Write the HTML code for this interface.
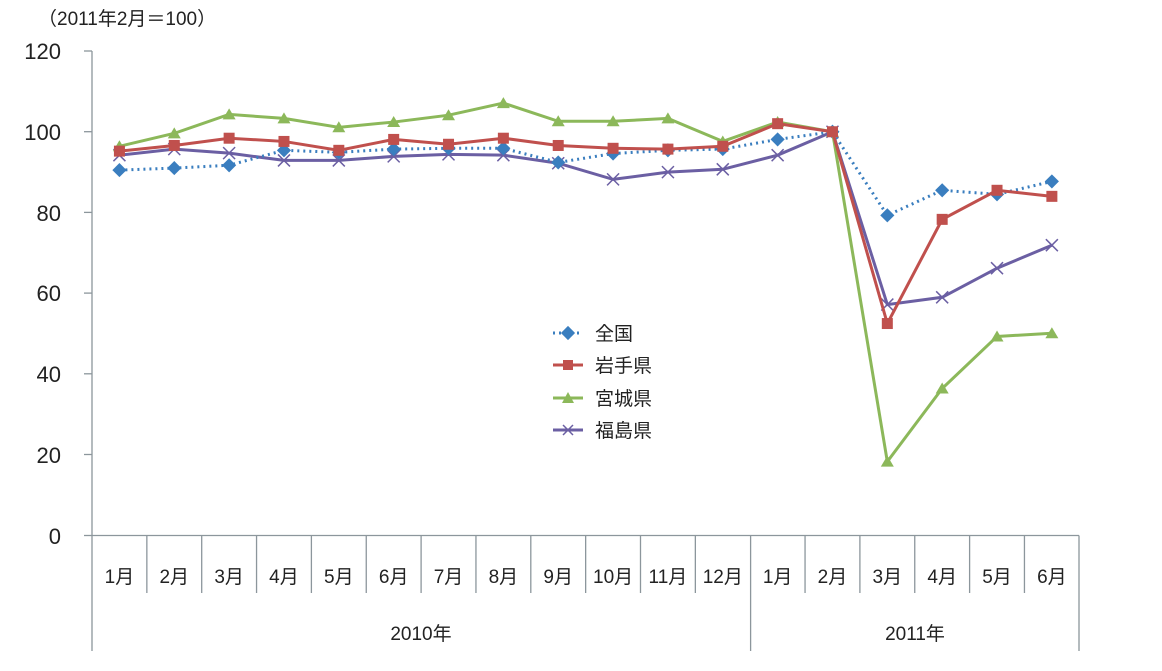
<!DOCTYPE html>
<html><head><meta charset="utf-8"><style>html,body{margin:0;padding:0;background:#fff}svg{display:block}text{font-family:"Liberation Sans","Noto Sans CJK JP",sans-serif;fill:#222}</style></head>
<body>
<svg width="1162" height="671" viewBox="0 0 1162 671" xmlns="http://www.w3.org/2000/svg">
<text x="38" y="25" font-size="19">（2011年2月＝100）</text>
<g font-size="22" text-anchor="end">
<text x="61" y="59">120</text><text x="61" y="140">100</text><text x="61" y="221">80</text><text x="61" y="301">60</text><text x="61" y="382">40</text><text x="61" y="463">20</text><text x="61" y="544">0</text>
</g>
<g stroke="#8c969c" stroke-width="1.3" fill="none">
<line x1="92" y1="51" x2="92" y2="651"/>
<line x1="84" y1="51" x2="92" y2="51"/><line x1="84" y1="131.7" x2="92" y2="131.7"/><line x1="84" y1="212.4" x2="92" y2="212.4"/><line x1="84" y1="293.1" x2="92" y2="293.1"/><line x1="84" y1="373.8" x2="92" y2="373.8"/><line x1="84" y1="454.5" x2="92" y2="454.5"/><line x1="84" y1="535.5" x2="92" y2="535.5"/>
<line x1="92" y1="535.5" x2="1079" y2="535.5"/>
<line x1="750.6" y1="535.5" x2="750.6" y2="651"/><line x1="1079" y1="535.5" x2="1079" y2="651"/>
</g>
<g id="ticks" stroke="#8c969c" stroke-width="1.3"></g>
<g id="labels" font-size="19" text-anchor="middle"></g>
<text x="421" y="640" font-size="19" text-anchor="middle">2010年</text>
<text x="915" y="640" font-size="19" text-anchor="middle">2011年</text>
<g id="series"></g>
<g font-size="19">
<line x1="553" y1="333" x2="583" y2="333" stroke="#3a7ebf" stroke-width="3" stroke-dasharray="2,4"/>
<rect x="563" y="328" width="10" height="10" fill="#3a7ebf" transform="rotate(45 568 333)"/>
<text x="595" y="340">全国</text>
<line x1="553" y1="365" x2="583" y2="365" stroke="#c0504d" stroke-width="3"/>
<rect x="563" y="360" width="10" height="10" fill="#c0504d"/>
<text x="595" y="372">岩手県</text>
<line x1="553" y1="398" x2="583" y2="398" stroke="#8cb85a" stroke-width="3"/>
<polygon points="568,392 574,403 562,403" fill="#8cb85a"/>
<text x="595" y="405">宮城県</text>
<line x1="553" y1="430" x2="583" y2="430" stroke="#6b5fa3" stroke-width="3"/>
<path d="M563 425 L573 435 M573 425 L563 435" stroke="#6b5fa3" stroke-width="1.5"/>
<text x="595" y="437">福島県</text>
</g>
</svg>
<script>
const ns="http://www.w3.org/2000/svg";
const w=54.85, x0=92;
const cx=i=>x0+w*(i+0.5);
const Y=v=>535.5-v*4.0375;
const t=document.getElementById('ticks'),l=document.getElementById('labels'),s=document.getElementById('series');
for(let i=1;i<18;i++){if(i==12)continue;const ln=document.createElementNS(ns,'line');ln.setAttribute('x1',x0+w*i);ln.setAttribute('x2',x0+w*i);ln.setAttribute('y1',535.5);ln.setAttribute('y2',593);t.appendChild(ln);}
const names=[];for(let i=1;i<=12;i++)names.push(i+'月');for(let i=1;i<=6;i++)names.push(i+'月');
names.forEach((n,i)=>{const tx=document.createElementNS(ns,'text');tx.setAttribute('x',cx(i));tx.setAttribute('y',583);tx.textContent=n;l.appendChild(tx);});
const D=[
["#3a7ebf","d",[90.5,91,91.7,95.4,94.9,95.7,95.9,95.9,92.4,94.6,95.4,95.7,98.1,100,79.3,85.5,84.5,87.7]],
["#c0504d","s",[95.2,96.6,98.4,97.6,95.4,98.1,96.9,98.4,96.6,95.9,95.7,96.4,102,100,52.5,78.3,85.5,84]],
["#8cb85a","t",[96.4,99.6,104.3,103.3,101.1,102.4,104.1,107.1,102.6,102.6,103.3,97.6,102.4,100,18.3,36.4,49.3,50.1]],
["#6b5fa3","x",[94.2,95.7,94.7,92.9,92.9,93.9,94.4,94.2,92.2,88.2,90,90.7,94.2,100,57.2,59,66.2,71.9]]];
const order=[3,0,2,1];
order.forEach(k=>{const [c,m,v]=D[k];
const p=document.createElementNS(ns,'polyline');p.setAttribute('points',v.map((a,i)=>cx(i)+','+Y(a)).join(' '));p.setAttribute('fill','none');p.setAttribute('stroke',c);p.setAttribute('stroke-width',3);if(m=='d')p.setAttribute('stroke-dasharray','2,4');s.appendChild(p);
v.forEach((a,i)=>{const x=cx(i),y=Y(a);let e;
if(m=='d'){e=document.createElementNS(ns,'rect');e.setAttribute('x',x-5);e.setAttribute('y',y-5);e.setAttribute('width',10);e.setAttribute('height',10);e.setAttribute('transform',`rotate(45 ${x} ${y})`);e.setAttribute('fill',c);}
else if(m=='s'){e=document.createElementNS(ns,'rect');e.setAttribute('x',x-5.5);e.setAttribute('y',y-5.5);e.setAttribute('width',11);e.setAttribute('height',11);e.setAttribute('fill',c);}
else if(m=='t'){e=document.createElementNS(ns,'polygon');e.setAttribute('points',`${x},${y-6} ${x+6.5},${y+5} ${x-6.5},${y+5}`);e.setAttribute('fill',c);}
else{e=document.createElementNS(ns,'path');e.setAttribute('d',`M${x-6} ${y-6}L${x+6} ${y+6}M${x+6} ${y-6}L${x-6} ${y+6}`);e.setAttribute('stroke',c);e.setAttribute('stroke-width',1.5);}
s.appendChild(e);});});
</script>
</body></html>
